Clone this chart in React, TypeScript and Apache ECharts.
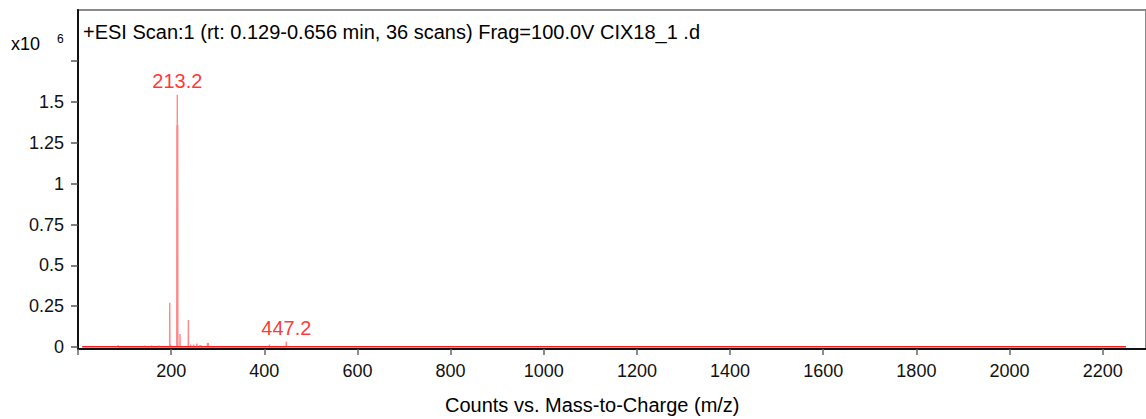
import React, { useEffect, useRef } from "react";
import * as echarts from "echarts";

// Spectrum sticks (m/z, counts)
const peakMz = [86, 144, 158, 174, 197, 199, 212.3, 213.2, 214.1, 219, 237, 242, 248, 255, 262, 264, 278, 280, 411, 447.2];
const peakCounts = [10000, 8000, 8000, 9000, 271000, 15000, 1360000, 1545000, 1360000, 80000, 165000, 15000, 15000, 22000, 12000, 10000, 25000, 25000, 15000, 33000];
const labeledMz = [213.2, 447.2];
const baselineMz = [9, 2250];
const baselineCounts = [1500, 1500];

const xTicks = [0, 200, 400, 600, 800, 1000, 1200, 1400, 1600, 1800, 2000, 2200];
const xTickLabels = [200, 400, 600, 800, 1000, 1200, 1400, 1600, 1800, 2000, 2200];
const yTicks = [0, 250000, 500000, 750000, 1000000, 1250000, 1500000, 1750000];
const yTickLabels = [0, 250000, 500000, 750000, 1000000, 1250000, 1500000];

const titleText = "+ESI Scan:1 (rt: 0.129-0.656 min, 36 scans) Frag=100.0V CIX18_1 .d";
const xAxisTitle = "Counts vs. Mass-to-Charge (m/z)";
const scaleText = "x10";
const scaleExp = "6";

const FONT = "'Liberation Sans', Arial, sans-serif";

export default function App() {
  const ref = useRef<HTMLDivElement>(null);
  useEffect(() => {
    if (!ref.current) return;
    const chart = echarts.init(ref.current, null, { renderer: "svg" });
    const half = 0.3;
    const base = baselineCounts[0];
    const stickData: number[][] = [];
    peakMz.forEach((m, i) => {
      stickData.push([m - half, base]);
      stickData.push([m, peakCounts[i]]);
      stickData.push([m + half, base]);
    });
    const labelData = labeledMz.map((m) => [m, peakCounts[peakMz.indexOf(m)]]);
    const baseData = baselineMz.map((m, i) => [m, baselineCounts[i]]);

    chart.setOption({
      animation: false,
      textStyle: { fontFamily: FONT },
      grid: {
        left: 78,
        top: 10,
        right: -2,
        bottom: 70,
        show: true,
        borderColor: "#8a8a8a",
        borderWidth: 2,
        backgroundColor: "transparent",
      },
      xAxis: {
        type: "value",
        min: 0,
        max: 2293,
        interval: 200,
        axisLine: { show: true, onZero: false, lineStyle: { color: "#111", width: 2 } },
        axisTick: {
          show: true,
          length: 6,
          customValues: xTicks,
          lineStyle: { color: "#666", width: 1.5 },
        },
        axisLabel: {
          customValues: xTickLabels,
          formatter: (v: number) => String(v),
          fontSize: 18,
          color: "#111",
          margin: 13,
          fontFamily: FONT,
        },
        splitLine: { show: false },
      },
      yAxis: {
        type: "value",
        min: -12250,
        max: 2063700,
        axisLine: { show: true, onZero: false, lineStyle: { color: "#111", width: 2 } },
        axisTick: {
          show: true,
          length: 7,
          customValues: yTicks,
          lineStyle: { color: "#555", width: 1.5 },
        },
        axisLabel: {
          customValues: yTickLabels,
          formatter: (v: number) => String(v / 1e6),
          fontSize: 18,
          color: "#111",
          margin: 14,
          fontFamily: FONT,
        },
        splitLine: { show: false },
      },
      series: [
        {
          type: "line",
          data: stickData,
          symbol: "none",
          lineStyle: { color: "rgba(255,40,40,0.55)", width: 1.4 },
          z: 2,
        },
        {
          type: "line",
          data: baseData,
          symbol: "none",
          lineStyle: { color: "#ff1a1a", width: 1.5 },
          z: 3,
        },
        {
          type: "scatter",
          data: labelData,
          symbolSize: 1,
          itemStyle: { color: "rgba(255,0,0,0)" },
          label: {
            show: true,
            position: "top",
            distance: 3,
            formatter: (p: any) => p.value[0].toFixed(1),
            color: "#ff0000",
            fontSize: 20,
            fontFamily: FONT,
          },
          z: 4,
        },
      ],
      graphic: [
        {
          type: "text",
          left: 83,
          top: 22,
          style: { text: titleText, fill: "#000", font: `20px ${FONT}` },
        },
        {
          type: "text",
          left: 11,
          top: 35,
          style: { text: scaleText, fill: "#000", font: `18px ${FONT}` },
        },
        {
          type: "text",
          left: 57,
          top: 33,
          style: { text: scaleExp, fill: "#000", font: `12px ${FONT}` },
        },
        {
          type: "text",
          left: 445,
          top: 395,
          style: { text: xAxisTitle, fill: "#000", font: `20px ${FONT}` },
        },
      ],
    });
    return () => chart.dispose();
  }, []);
  return (
    <div
      ref={ref}
      style={{ position: "fixed", left: 0, top: 0, width: 1146, height: 419, background: "#fff" }}
    />
  );
}
